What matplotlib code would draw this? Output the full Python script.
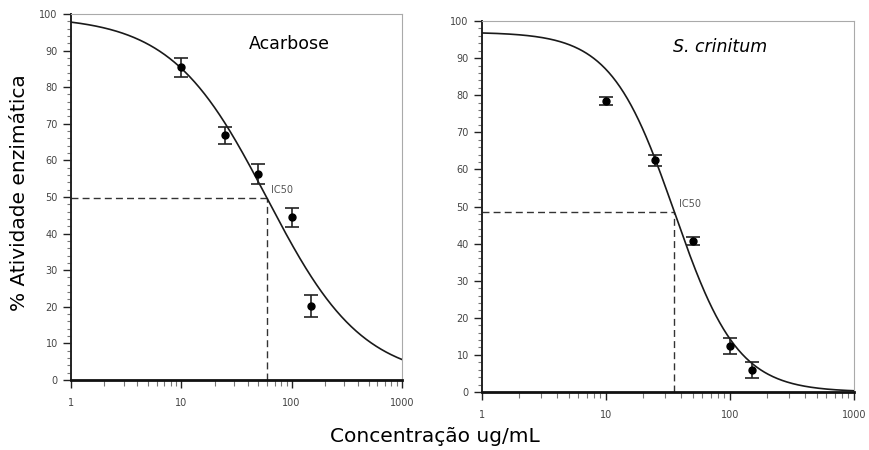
import matplotlib.pyplot as plt
import numpy as np
from matplotlib.ticker import MultipleLocator, LogLocator, NullFormatter, FixedFormatter, FixedLocator

# concentrations (ug/mL)
conc = [10, 25, 50, 100, 150]

# Acarbose
acarbose_y = [85.4, 66.8, 56.2, 44.4, 20.2]
acarbose_err = [2.7, 2.3, 2.7, 2.6, 3.1]
acarbose_fit = dict(top=99.4, bottom=0.0, ic50=59.7, hill=1.0)

# S. crinitum
crinitum_y = [78.4, 62.5, 40.6, 12.4, 6.0]
crinitum_err = [1.1, 1.5, 1.1, 2.1, 2.1]
crinitum_fit = dict(top=97.0, bottom=0.0, ic50=35.6, hill=1.7)

xticks = [1, 10, 100, 1000]
xtick_labels = ['1', '10', '100', '1000']
yticks = list(range(0, 101, 10))

tick_col = '#444444'


def logistic(x, top, bottom, ic50, hill):
    return bottom + (top - bottom) / (1 + (x / ic50) ** hill)


def draw_panel(ax, y, err, fit, title, italic, title_pos):
    xs = np.logspace(0, 3, 400)
    ax.plot(xs, logistic(xs, **fit), color='#1a1a1a', lw=1.2, zorder=3)
    ax.errorbar(conc, y, yerr=err, fmt='o', color='black', ms=5,
                ecolor='#222222', elinewidth=1.2, capsize=5, capthick=1.2, zorder=4)
    half = logistic(fit['ic50'], **fit)
    ax.plot([1, fit['ic50']], [half, half], ls=(0, (5, 3)), color='#333333', lw=1)
    ax.plot([fit['ic50'], fit['ic50']], [0, half], ls=(0, (5, 3)), color='#333333', lw=1)
    ax.text(fit['ic50'] * 1.08, half + 0.8, 'IC50', fontsize=7, color='#555555',
            va='bottom', ha='left')

    ax.set_xscale('log')
    ax.set_xlim(1, 1000)
    ax.set_ylim(0, 100)
    ax.xaxis.set_major_locator(FixedLocator(xticks))
    ax.xaxis.set_major_formatter(FixedFormatter(xtick_labels))
    ax.xaxis.set_minor_locator(LogLocator(base=10, subs=np.arange(2, 10)))
    ax.xaxis.set_minor_formatter(NullFormatter())
    ax.set_yticks(yticks)
    ax.yaxis.set_minor_locator(MultipleLocator(2))

    ax.tick_params(axis='both', which='major', direction='out', length=6,
                   width=1, colors='#222222', labelsize=7, labelcolor=tick_col)
    ax.tick_params(axis='both', which='minor', direction='out', length=3,
                   width=0.8, colors='#777777')
    ax.tick_params(axis='x', which='major', pad=7)
    ax.tick_params(axis='x', which='minor', length=4)

    ax.spines['bottom'].set_linewidth(2)
    ax.spines['bottom'].set_color('#111111')
    ax.spines['left'].set_linewidth(1.4)
    ax.spines['left'].set_color('#222222')
    for s in ['top', 'right']:
        ax.spines[s].set_color('#aaaaaa')
        ax.spines[s].set_linewidth(0.8)

    ax.text(title_pos[0], title_pos[1], title, transform=ax.transAxes, fontsize=12.5,
            style='italic' if italic else 'normal', ha='center', va='center')


fig = plt.figure(figsize=(8.7, 4.5), dpi=100)
ax1 = fig.add_axes([0.0816, 0.1556, 0.3804, 0.8134])
ax2 = fig.add_axes([0.554, 0.1289, 0.4276, 0.8244])

draw_panel(ax1, acarbose_y, acarbose_err, acarbose_fit, 'Acarbose', False, (0.66, 0.918))
draw_panel(ax2, crinitum_y, crinitum_err, crinitum_fit, 'S. crinitum', True, (0.64, 0.93))

fig.text(0.022, 0.571, '% Atividade enzimática', rotation=90, fontsize=14.5,
         ha='center', va='center')
fig.text(0.5, 0.029, 'Concentração ug/mL', fontsize=14.5, ha='center', va='center')

fig.savefig('out.png', dpi=100)
